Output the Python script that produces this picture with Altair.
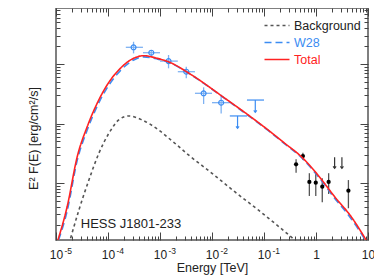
import altair as alt
import pandas as pd

# ---------------- model curves (E in TeV, E^2 F in erg/cm^2/s) ----------------
total_E = [1.09e-5, 1.64e-5, 2.56e-5, 3.98e-5, 6.18e-5, 9.62e-5, 1.73e-4, 3.12e-4, 4.85e-4,
           8.73e-4, 1.46e-3, 4.08e-3, 1.78e-2, 4.98e-2, 0.120, 0.251, 0.522, 1.09, 2.28, 4.74, 9.2]
total_F = [1.10e-13, 4.0e-13, 2.77e-12, 8.83e-12, 2.18e-11, 4.44e-11, 8.47e-11, 1.25e-10, 1.38e-10,
           1.25e-10, 1.09e-10, 6.53e-11, 2.65e-11, 1.39e-11, 7.78e-12, 4.65e-12, 2.77e-12, 1.36e-12,
           5.89e-13, 2.72e-13, 1.10e-13]

w28_E = [1.12e-5, 1.64e-5, 2.56e-5, 3.98e-5, 6.18e-5, 9.62e-5, 1.73e-4, 3.12e-4, 4.85e-4,
         8.73e-4, 1.46e-3, 4.08e-3, 1.78e-2, 4.98e-2, 0.120, 0.251, 0.522, 1.09, 2.28, 4.74, 8.91]
w28_F = [1.10e-13, 3.39e-13, 2.40e-12, 7.76e-12, 1.95e-11, 3.98e-11, 7.76e-11, 1.17e-10, 1.32e-10,
         1.22e-10, 1.07e-10, 6.46e-11, 2.62e-11, 1.36e-11, 7.64e-12, 4.54e-12, 2.68e-12, 1.30e-12,
         5.56e-13, 2.51e-13, 1.10e-13]

bg_E = [1.91e-5, 2.76e-5, 4.29e-5, 6.67e-5, 1.04e-4, 1.61e-4, 2.50e-4, 4.50e-4, 9.40e-4, 1.46e-3,
        2.11e-3, 3.53e-3, 9.86e-3, 2.77e-2, 7.74e-2, 0.187, 0.391]
bg_F = [1.18e-13, 3.52e-13, 1.12e-12, 3.16e-12, 6.84e-12, 1.15e-11, 1.34e-11, 1.15e-11, 7.78e-12,
        5.70e-12, 4.36e-12, 2.96e-12, 1.47e-12, 7.06e-13, 3.52e-13, 1.89e-13, 1.10e-13]

# ---------------- Fermi-LAT points (blue) ----------------
lat_E = [3.1e-4, 6.8e-4, 1.46e-3, 3.2e-3, 6.9e-3, 1.5e-2]
lat_Elo = [2.2e-4, 4.7e-4, 1.0e-3, 2.2e-3, 4.7e-3, 1.0e-2]
lat_Ehi = [4.7e-4, 1.0e-3, 2.2e-3, 4.7e-3, 1.0e-2, 2.2e-2]
lat_F = [1.91e-10, 1.55e-10, 1.12e-10, 7.43e-11, 3.22e-11, 2.24e-11]
lat_Flo = [1.51e-10, 1.38e-10, 8.47e-11, 5.75e-11, 2.13e-11, 1.48e-11]
lat_Fhi = [2.37e-10, 1.72e-10, 1.42e-10, 9.0e-11, 4.06e-11, 2.82e-11]

# Fermi upper limits
latul_E = [3.1e-2, 6.8e-2]
latul_Elo = [2.2e-2, 4.7e-2]
latul_Ehi = [4.7e-2, 1.0e-1]
latul_F = [1.34e-11, 2.48e-11]
latul_tip = [8.3e-12, 1.54e-11]

# ---------------- HESS points (black) ----------------
hess_E = [0.414, 0.56, 0.745, 0.99, 1.32, 1.75, 4.2]
hess_F = [2.06e-12, 2.84e-12, 1.04e-12, 1.01e-12, 8.67e-13, 1.04e-12, 7.43e-13]
hess_Flo = [1.49e-12, 2.44e-12, 6.05e-13, 6.05e-13, 4.74e-13, 6.53e-13, 3.76e-13]
hess_Fhi = [2.50e-12, 3.23e-12, 1.46e-12, 1.46e-12, 1.20e-12, 1.46e-12, 1.12e-12]

hessul_E = [2.28, 3.15]
hessul_F = [2.70e-12, 2.70e-12]
hessul_tip = [1.77e-12, 1.77e-12]

# ---------------- axes ----------------
x_domain = [1e-5, 10]
y_domain = [1.1e-13, 8.75e-10]
x_exps = [-5, -4, -3, -2, -1, 0, 1]
x_base_labels = ["10", "10", "10", "10", "10", "1", "10"]
x_exp_labels = ["-5", "-4", "-3", "-2", "-1", "", ""]
y_exps = [-13, -12, -11, -10, -9]
mult = [1, 2, 3, 4, 5, 6, 7, 8, 9]

x_ticks = [m * 10.0 ** e for e in x_exps[:-1] for m in mult] + [10.0]
x_major = [10.0 ** e for e in x_exps]
y_ticks = [m * 10.0 ** e for e in y_exps for m in mult
           if y_domain[0] <= m * 10.0 ** e <= y_domain[1]]

series_names = ["Background", "W28", "Total"]
series_colors = ["#555555", "#3b8cf2", "#ff2222"]
series_dash = [[3, 3], [7, 4], [1, 0]]

FONT = "Liberation Sans"
TXT = "#222222"

curves = pd.concat([
    pd.DataFrame({"E": bg_E, "F": bg_F, "series": "Background"}),
    pd.DataFrame({"E": w28_E, "F": w28_F, "series": "W28"}),
    pd.DataFrame({"E": total_E, "F": total_F, "series": "Total"}),
])
lat = pd.DataFrame({"E": lat_E, "Elo": lat_Elo, "Ehi": lat_Ehi, "F": lat_F, "Flo": lat_Flo, "Fhi": lat_Fhi})
latul = pd.DataFrame({"E": latul_E, "Elo": latul_Elo, "Ehi": latul_Ehi, "F": latul_F, "tip": latul_tip})
hess = pd.DataFrame({"E": hess_E, "F": hess_F, "Flo": hess_Flo, "Fhi": hess_Fhi})
hessul = pd.DataFrame({"E": hessul_E, "F": hessul_F, "tip": hessul_tip})
label_df = pd.DataFrame({"E": [3.0e-5], "F": [2.05e-13], "text": ["HESS J1801-233"]})

is_major = "abs(log(datum.value)/LN10 - round(log(datum.value)/LN10)) < 0.01"
tick_size = {"expr": f"{is_major} ? -8 : -4"}


def make_label_expr(labels):
    expr = "''"
    for e, lab in zip(reversed(x_exps), reversed(labels)):
        expr = f"round(log(datum.value)/LN10*100) == {e*100} ? '{lab}' : ({expr})"
    return expr


xs = alt.Scale(type="log", domain=x_domain, nice=False)
ys = alt.Scale(type="log", domain=y_domain, nice=False)

common_axis = dict(grid=False, domain=False, tickColor="#444444", tickWidth=1, tickSize=tick_size)

ax_bottom = alt.Axis(orient="bottom", values=x_ticks, labelExpr=make_label_expr(x_base_labels),
                     labelPadding=17, labelFont=FONT, labelFontSize=12, labelColor=TXT,
                     labelFlush=False, labelOverlap=False, title="Energy [TeV]", titleFont=FONT,
                     titleFontSize=12.5, titleFontWeight="normal", titleColor=TXT,
                     titleBaseline="alphabetic", titleY=31.5, **common_axis)
ax_exp = alt.Axis(orient="bottom", values=x_major, labelExpr=make_label_expr(x_exp_labels),
                  ticks=False, domain=False, grid=False, labelPadding=6, labelFont=FONT,
                  labelFontSize=8.5, labelColor=TXT, labelAlign="left", labelOffset=8,
                  labelFlush=False, labelOverlap=False, title=None)
ax_left = alt.Axis(orient="left", values=y_ticks, labels=False, title="E² F(E) [erg/cm²/s]",
                   titleFont=FONT, titleFontSize=12.5, titleFontWeight="normal", titleColor=TXT,
                   titleAngle=270, titleAlign="center", titleBaseline="middle", titleX=-23, titleY=130,
                   **common_axis)
ax_top = alt.Axis(orient="top", values=x_ticks, labels=False, title=None, **common_axis)
ax_right = alt.Axis(orient="right", values=y_ticks, labels=False, title=None, **common_axis)

legend = alt.Legend(title=None, orient="none", legendX=214, legendY=10.5, symbolType="M-2,0L2,0",
                    symbolSize=156, symbolStrokeWidth=1.5, labelOffset=10, labelFont=FONT,
                    labelFontSize=12.5, padding=0, rowPadding=3,
                    labelColor={"expr": "datum.label == 'W28' ? '#3b8cf2' : datum.label == 'Total' ? '#ff2222' : '#222222'"})

color = alt.Color("series:N", scale=alt.Scale(domain=series_names, range=series_colors), legend=legend)
dash = alt.StrokeDash("series:N", scale=alt.Scale(domain=series_names, range=series_dash), legend=legend)


def curve_layer(name, xaxis, yaxis):
    return alt.Chart(curves).transform_filter(alt.datum.series == name).mark_line(
        strokeWidth=1.6, interpolate="monotone", clip=True
    ).encode(
        x=alt.X("E:Q", scale=xs, axis=xaxis),
        y=alt.Y("F:Q", scale=ys, axis=yaxis),
        color=color, strokeDash=dash, order=alt.Order("E:Q"),
    )


bg_layer = curve_layer("Background", ax_exp, None)
w28_layer = curve_layer("W28", ax_top, ax_right)
tot_layer = curve_layer("Total", ax_bottom, ax_left)

blue_err = "#7fb2f2"
blue = "#3b8cf2"

lat_xerr = alt.Chart(lat).mark_rule(color=blue_err, strokeWidth=1.3).encode(
    x=alt.X("Elo:Q", scale=xs, axis=None), x2="Ehi:Q", y=alt.Y("F:Q", scale=ys, axis=None))
lat_yerr = alt.Chart(lat).mark_rule(color=blue_err, strokeWidth=1.3).encode(
    x=alt.X("E:Q", scale=xs, axis=None), y=alt.Y("Flo:Q", scale=ys, axis=None), y2="Fhi:Q")
lat_pts = alt.Chart(lat).mark_point(shape="circle", filled=False, size=24, color=blue, strokeWidth=1.2, opacity=1).encode(
    x=alt.X("E:Q", scale=xs, axis=None), y=alt.Y("F:Q", scale=ys, axis=None))

latul_bar = alt.Chart(latul).mark_rule(color=blue, strokeWidth=1.2).encode(
    x=alt.X("Elo:Q", scale=xs, axis=None), x2="Ehi:Q", y=alt.Y("F:Q", scale=ys, axis=None))
latul_stem = alt.Chart(latul).mark_rule(color=blue, strokeWidth=1.2).encode(
    x=alt.X("E:Q", scale=xs, axis=None), y=alt.Y("F:Q", scale=ys, axis=None), y2="tip:Q")
latul_head = alt.Chart(latul).mark_point(shape="M-1,-1.3L0,0L1,-1.3", filled=False, size=9, color=blue,
                                         strokeWidth=1.2, opacity=1).encode(
    x=alt.X("E:Q", scale=xs, axis=None), y=alt.Y("tip:Q", scale=ys, axis=None))

hess_err = alt.Chart(hess).mark_rule(color="#555555", strokeWidth=1.3).encode(
    x=alt.X("E:Q", scale=xs, axis=None), y=alt.Y("Flo:Q", scale=ys, axis=None), y2="Fhi:Q")
hess_pts = alt.Chart(hess).mark_circle(size=18, color="black", opacity=1).encode(
    x=alt.X("E:Q", scale=xs, axis=None), y=alt.Y("F:Q", scale=ys, axis=None))
hessul_stem = alt.Chart(hessul).mark_rule(color="#333333", strokeWidth=1.2).encode(
    x=alt.X("E:Q", scale=xs, axis=None), y=alt.Y("F:Q", scale=ys, axis=None), y2="tip:Q")
hessul_head = alt.Chart(hessul).mark_point(shape="M-1,-1.3L0,0L1,-1.3", filled=False, size=9, color="#333333",
                                           strokeWidth=1.2, opacity=1).encode(
    x=alt.X("E:Q", scale=xs, axis=None), y=alt.Y("tip:Q", scale=ys, axis=None))

label = alt.Chart(label_df).mark_text(align="left", baseline="middle", font=FONT, fontSize=13,
                                      color=TXT).encode(
    x=alt.X("E:Q", scale=xs, axis=None), y=alt.Y("F:Q", scale=ys, axis=None), text="text:N")

chart = alt.layer(
    bg_layer, lat_xerr, lat_yerr, lat_pts, latul_bar, latul_stem, latul_head,
    hess_err, hess_pts, hessul_stem, hessul_head, w28_layer, tot_layer, label,
).resolve_axis(x="independent", y="independent").properties(
    width=312, height=232,
    autosize=alt.AutoSizeParams(type="none"),
    padding={"left": 48, "top": 0, "right": 6, "bottom": 38},
    background="white",
).configure_view(stroke="#555555", strokeWidth=1.5)

chart.save("out.html", embed_options={"renderer": "svg", "actions": False})
